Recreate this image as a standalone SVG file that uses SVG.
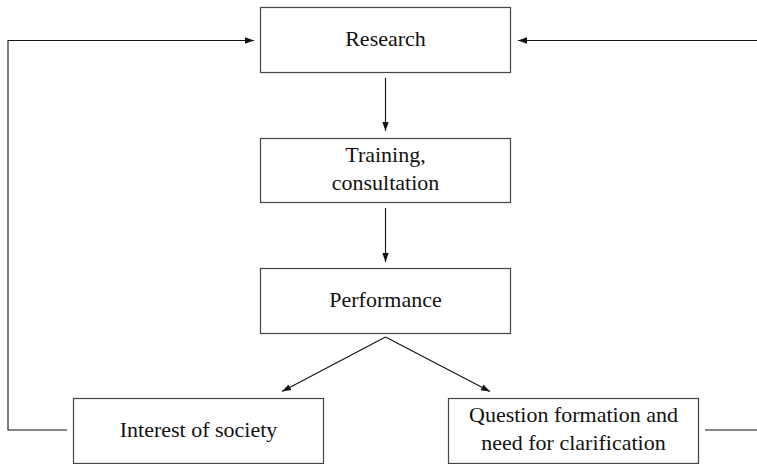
<svg xmlns="http://www.w3.org/2000/svg" width="757" height="464" viewBox="0 0 757 464">
<style>
.box{fill:#fff;stroke:#444;stroke-width:1.2}
.t{font-family:"Liberation Serif",serif;font-size:22px;fill:#111;text-anchor:middle}
.c{fill:none;stroke:#111;stroke-width:1.1}
</style>
<defs>
<marker id="ah" viewBox="0 0 10 10" refX="10" refY="5" markerWidth="9" markerHeight="9" markerUnits="userSpaceOnUse" orient="auto">
<path d="M0,1.5 L10,5 L0,8.5 Z" fill="#111"/>
</marker>
</defs>
<rect width="757" height="464" fill="#fff"/>
<g id="connectors">
<polyline class="c" points="67,430 8,430 8,40.5 254,40.5" marker-end="url(#ah)"/>
<line class="c" x1="757" y1="40.5" x2="518" y2="40.5" marker-end="url(#ah)"/>
<polyline class="c" points="705,430 757,430"/>
<line class="c" x1="385.5" y1="78" x2="385.5" y2="131" marker-end="url(#ah)"/>
<line class="c" x1="385.5" y1="208" x2="385.5" y2="262" marker-end="url(#ah)"/>
<line class="c" x1="385.5" y1="337" x2="282" y2="391.5" marker-end="url(#ah)"/>
<line class="c" x1="385.5" y1="337" x2="490" y2="391.5" marker-end="url(#ah)"/>
</g>
<g id="research">
<rect class="box" x="260.5" y="7.5" width="250" height="65"/>
<text class="t" x="385.5" y="46">Research</text>
</g>
<g id="training">
<rect class="box" x="260.5" y="138.5" width="250" height="64"/>
<text class="t" x="385.5" y="161.5">Training,</text>
<text class="t" x="385.5" y="189.5">consultation</text>
</g>
<g id="performance">
<rect class="box" x="260.5" y="268.5" width="250" height="65"/>
<text class="t" x="385.5" y="306.5">Performance</text>
</g>
<g id="interest">
<rect class="box" x="73.5" y="398.5" width="250" height="65"/>
<text class="t" x="198.5" y="436.5">Interest of society</text>
</g>
<g id="question">
<rect class="box" x="448.5" y="398.5" width="250" height="65"/>
<text class="t" x="573.5" y="421.5">Question formation and</text>
<text class="t" x="573.5" y="450">need for clarification</text>
</g>
</svg>
